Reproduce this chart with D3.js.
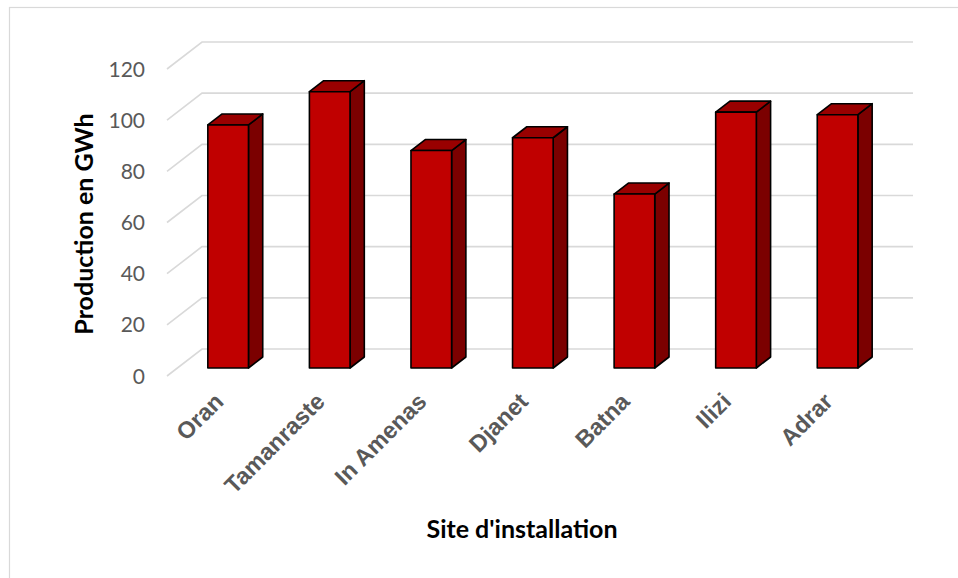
<!DOCTYPE html>
<html>
<head>
<meta charset="utf-8">
<script src="https://cdn.jsdelivr.net/npm/d3@7/dist/d3.min.js"></script>
<style>
  html, body { margin: 0; padding: 0; background: #fff; }
  svg { display: block; }
</style>
</head>
<body>
<svg id="chart" width="958" height="578"></svg>
<script>
// Annual production per installation site (GWh)
const sites = ["Oran", "Tamanraste", "In Amenas", "Djanet", "Batna", "Ilizi", "Adrar"];
const production = [95, 108, 85, 90, 68, 100, 99];
const yTicks = [0, 20, 40, 60, 80, 100, 120];

const svg = d3.select("#chart");
const W = 958, H = 578;

// Oblique 3D projection: the back wall is drawn at depth 0, the floor front edge at depth 1
const depthDX = -35, depthDY = 27;
const barDepth = [0.296, 0.704];

const x = d3.scaleBand().domain(sites).range([202, 913]).paddingInner(0.6).paddingOuter(0.3);
const y = d3.scaleLinear().domain([0, 120]).range([349, 42]);

function proj(px, v, d) {
  return [px + d * depthDX, y(v) + d * depthDY];
}

// Chart frame
svg.append("rect")
  .attr("x", 9.5).attr("y", 7.5)
  .attr("width", W + 20).attr("height", H + 20)
  .attr("fill", "none").attr("stroke", "#d9d9d9").attr("stroke-width", 1.2);

// Gridlines: diagonal side-wall segment plus horizontal back-wall line
const grid = svg.append("g").attr("fill", "none").attr("stroke", "#d9d9d9").attr("stroke-width", 1.6);
yTicks.forEach(t => {
  const front = proj(x.range()[0], t, 1);
  const back = proj(x.range()[0], t, 0);
  const right = proj(x.range()[1], t, 0);
  grid.append("polyline").attr("points", [front, back, right].map(p => p.join(",")).join(" "));
});

// Value axis labels
svg.append("g").selectAll("text").data(yTicks).join("text")
  .attr("x", 145)
  .attr("y", d => proj(x.range()[0], d, 1)[1])
  .attr("dy", "0.36em")
  .attr("text-anchor", "end")
  .attr("font-family", "Lato, 'Open Sans', sans-serif")
  .attr("font-size", 21)
  .attr("fill", "#595959")
  .text(d => d);

// Bars as 3D columns: front face, top, right side
const bars = svg.append("g").attr("stroke", "#000").attr("stroke-width", 1.6).attr("stroke-linejoin", "round");
sites.forEach((s, i) => {
  const v = production[i];
  const x0 = x(s), x1 = x(s) + x.bandwidth();
  const [df, db] = [barDepth[1], barDepth[0]];
  const fTL = proj(x0, v, df), fTR = proj(x1, v, df), fBR = proj(x1, 0, df), fBL = proj(x0, 0, df);
  const bTL = proj(x0, v, db), bTR = proj(x1, v, db), bBR = proj(x1, 0, db);
  const poly = pts => pts.map(p => p.join(",")).join(" ");
  bars.append("polygon").attr("points", poly([fTR, bTR, bBR, fBR])).attr("fill", "#7b0000");
  bars.append("polygon").attr("points", poly([fTL, fTR, bTR, bTL])).attr("fill", "#990000");
  bars.append("polygon").attr("points", poly([fTL, fTR, fBR, fBL])).attr("fill", "#c00000");
});

// Category labels, rotated
svg.append("g").selectAll("text").data(sites).join("text")
  .attr("transform", d => {
    const p = proj(x(d) + x.bandwidth() / 2, 0, 1);
    return `translate(${p[0] + 7},${p[1] + 27}) rotate(-45)`;
  })
  .attr("text-anchor", "end")
  .attr("font-family", "'Liberation Sans', Arial, sans-serif")
  .attr("font-weight", "bold")
  .attr("font-size", 23.5)
  .attr("fill", "#595959")
  .text(d => d);

// Axis titles
svg.append("text")
  .attr("x", 522).attr("y", 538)
  .attr("text-anchor", "middle")
  .attr("font-family", "Lato, 'Open Sans', sans-serif")
  .attr("font-weight", "bold")
  .attr("font-size", 25)
  .attr("fill", "#000")
  .text("Site d'installation");

svg.append("text")
  .attr("transform", "translate(93,224) rotate(-90)")
  .attr("text-anchor", "middle")
  .attr("font-family", "Lato, 'Open Sans', sans-serif")
  .attr("font-weight", "bold")
  .attr("font-size", 25)
  .attr("fill", "#000")
  .text("Production en GWh");
</script>
</body>
</html>
